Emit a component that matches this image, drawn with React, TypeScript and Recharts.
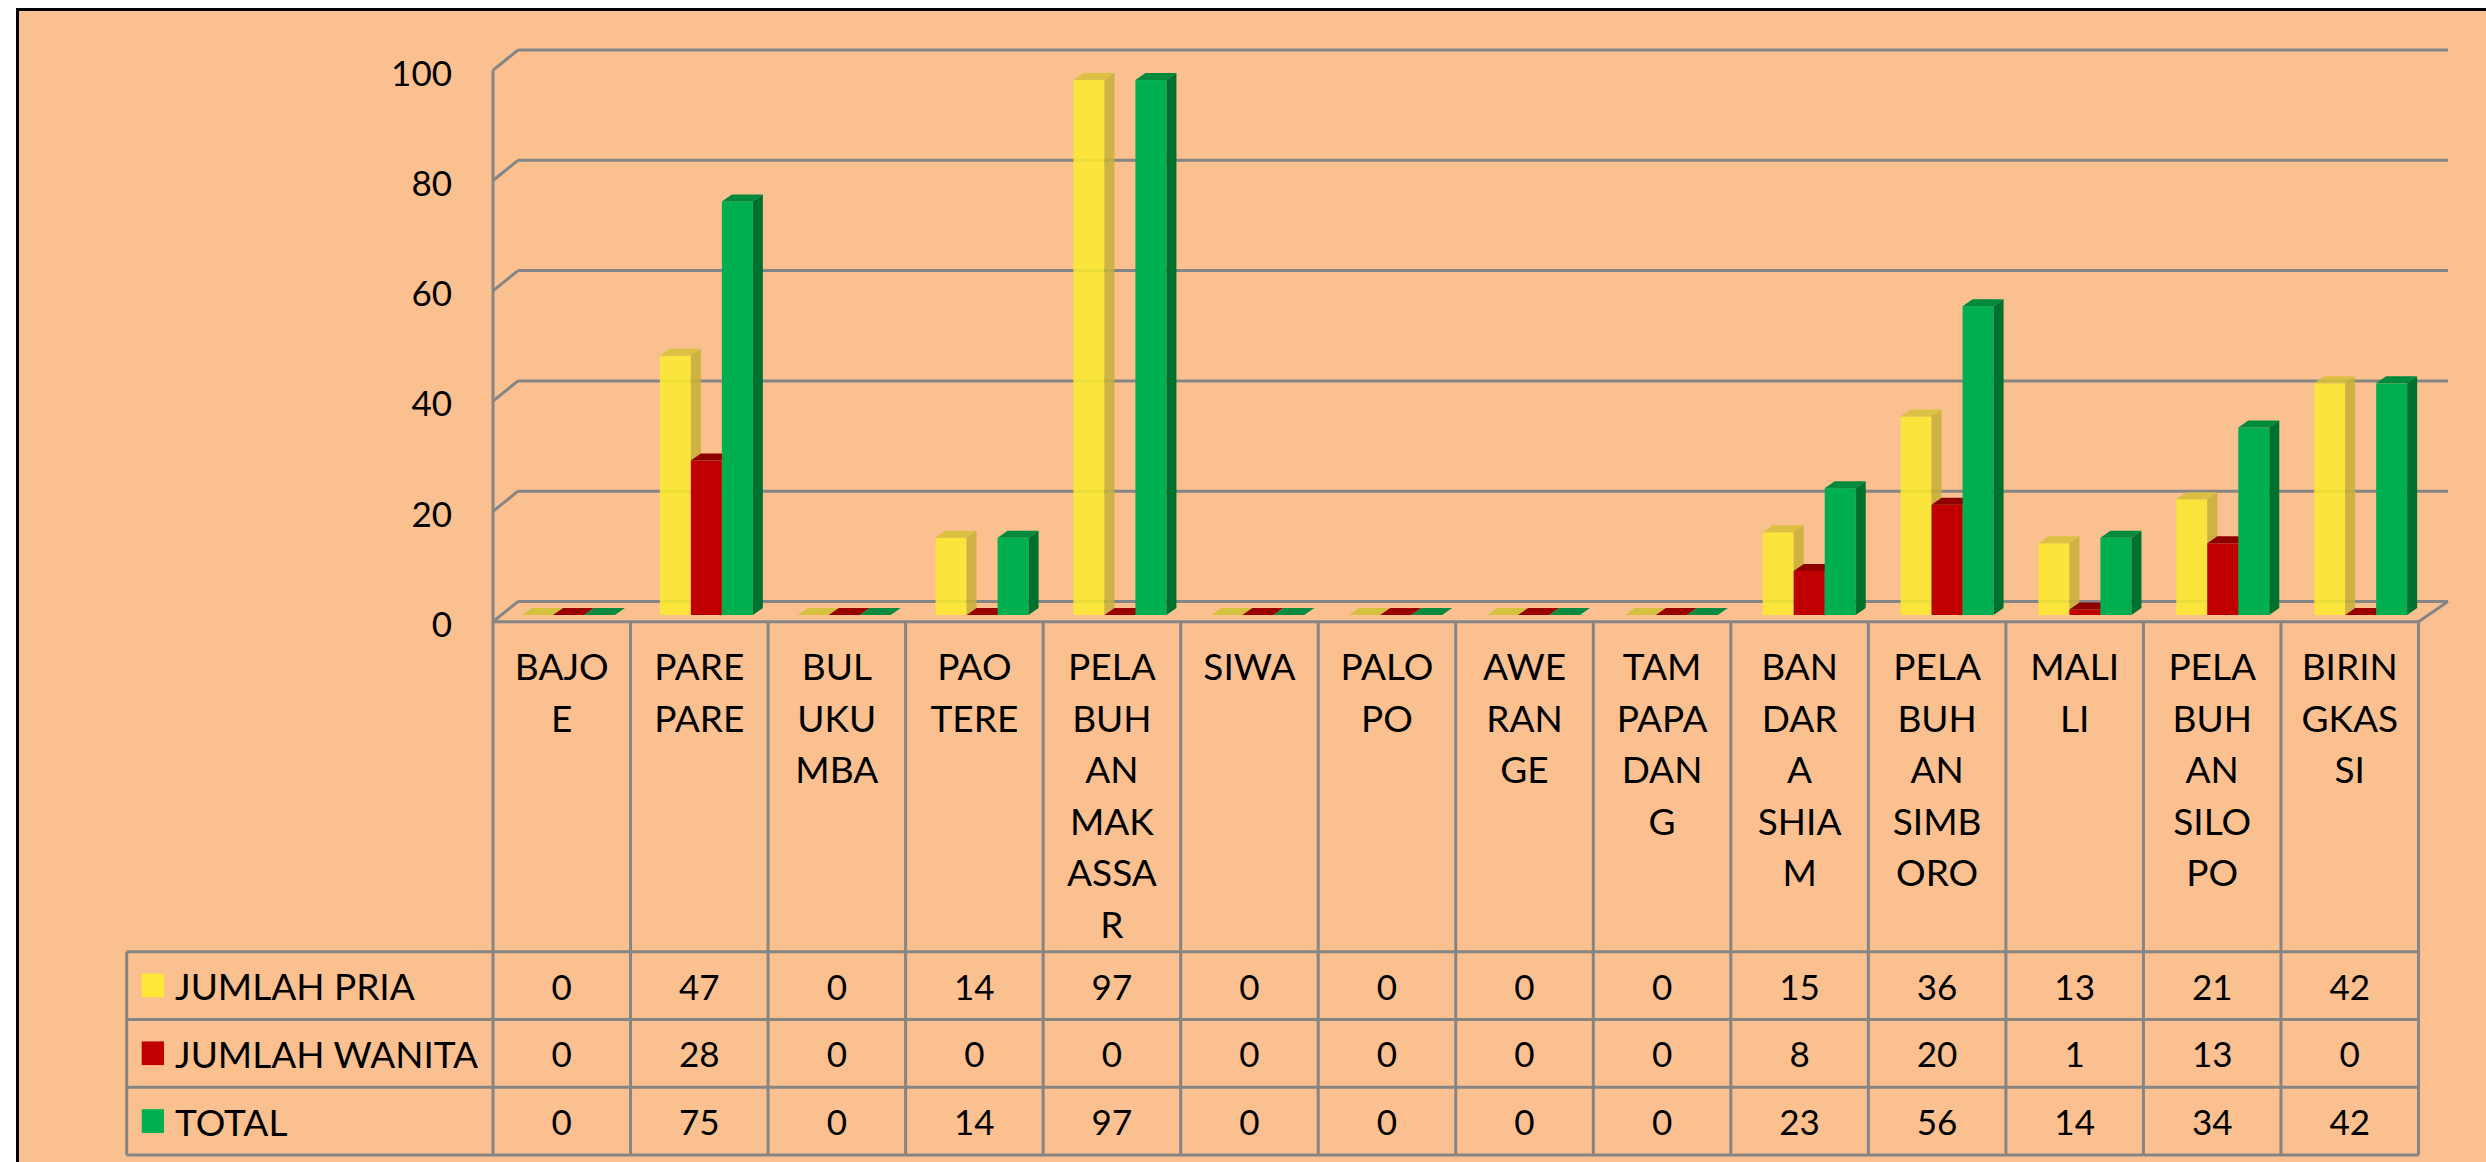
import { Bar, BarChart, CartesianGrid, XAxis, YAxis } from "recharts";

const categories = [
  "BAJOE",
  "PARE PARE",
  "BULUKUMBA",
  "PAOTERE",
  "PELABUHAN MAKASSAR",
  "SIWA",
  "PALOPO",
  "AWERANGE",
  "TAMPAPADANG",
  "BANDAR A SHIAM",
  "PELABUHAN SIMBORO",
  "MALILI",
  "PELABUHAN SILOPO",
  "BIRINGKASSI",
];
// wrapped the way the sheet wraps them in the narrow table cells
const tickLabels = [
  "BAJO\nE",
  "PARE\nPARE",
  "BUL\nUKU\nMBA",
  "PAO\nTERE",
  "PELA\nBUH\nAN\nMAK\nASSA\nR",
  "SIWA",
  "PALO\nPO",
  "AWE\nRAN\nGE",
  "TAM\nPAPA\nDAN\nG",
  "BAN\nDAR\nA\nSHIA\nM",
  "PELA\nBUH\nAN\nSIMB\nORO",
  "MALI\nLI",
  "PELA\nBUH\nAN\nSILO\nPO",
  "BIRIN\nGKAS\nSI",
];
const jumlahPria = [0, 47, 0, 14, 97, 0, 0, 0, 0, 15, 36, 13, 21, 42];
const jumlahWanita = [0, 28, 0, 0, 0, 0, 0, 0, 0, 8, 20, 1, 13, 0];
const total = [0, 75, 0, 14, 97, 0, 0, 0, 0, 23, 56, 14, 34, 42];
const seriesNames = ["JUMLAH PRIA", "JUMLAH WANITA", "TOTAL"];
const yTicks = [0, 20, 40, 60, 80, 100];

const rows = categories.map((name, i) => ({
  name,
  pria: jumlahPria[i],
  wanita: jumlahWanita[i],
  total: total[i],
}));

// layout (page pixels)
const W = 2486;
const H = 1162;
const BG = "#FAC090";
const GRID = "#858585";
const FONT = "Lato, 'Open Sans', sans-serif";
const FS = 35; // numbers
const FS_TXT = 37; // words

const PLOT_LEFT = 500;
const PLOT_RIGHT = 2430;
const PLOT_TOP = 63.5;
const PLOT_BOTTOM = 615;
const FRONT_LEFT = 493;
const FRONT_RIGHT = 2418.5;
const FRONT_DY = 6.7;
const BACK_DX = 18;
const BACK_DY = -13.5;
const ROW_TOP = 951.7;
const ROW_H = 67.8;
const TABLE_BOTTOM = ROW_TOP + ROW_H * 3;
const LEGEND_LEFT = 126.7;
const LABEL_FIRST = 665.5;
const LABEL_STEP = 51.5;
const DX = 10; // bar depth
const DY = 7;

const colors = [
  { front: "#FCEA30", top: "#D8C03A", side: "#C9B13A", flat: "#D6C13E", legend: "#FFE936", opacity: 0.88 },
  { front: "#C00000", top: "#8E0000", side: "#7A0000", flat: "#990000", legend: "#C00000", opacity: 1 },
  { front: "#00B050", top: "#008A3C", side: "#00702F", flat: "#0A8A3E", legend: "#00B050", opacity: 1 },
];

const toFront = (x: number) =>
  FRONT_LEFT + ((x - PLOT_LEFT) * (FRONT_RIGHT - FRONT_LEFT)) / (PLOT_RIGHT - PLOT_LEFT);

function WallLine(props: any) {
  const { x1, x2, y1 } = props;
  const fy = y1 + FRONT_DY;
  const by = y1 + BACK_DY;
  const fl = toFront(x1);
  const fr = toFront(x2);
  const bl = x1 + BACK_DX;
  const br = x2 + BACK_DX;
  const isFloor = Math.abs(y1 - PLOT_BOTTOM) < 1;
  const isTop = Math.abs(y1 - PLOT_TOP) < 1;
  return (
    <g key={props.key} stroke={GRID} strokeWidth={3} fill="none">
      <line x1={bl} y1={by} x2={br} y2={by} />
      <line x1={fl} y1={fy} x2={bl} y2={by} />
      {isFloor && (
        <>
          <line x1={fl} y1={fy} x2={fr} y2={fy} />
          <line x1={fr} y1={fy} x2={br} y2={by} />
        </>
      )}
      {isTop && <line x1={fl} y1={fy} x2={fl} y2={TABLE_BOTTOM} />}
    </g>
  );
}

const bar3d = (c: (typeof colors)[number]) => (props: any) => {
  const { x, y, width: w, height } = props;
  if (x == null || y == null) return <g />;
  const h = Math.max(height || 0, 0);
  if (h < 0.5) {
    const yb = y + (height || 0);
    return (
      <polygon
        points={`${x},${yb} ${x + w},${yb} ${x + w + DX},${yb - DY} ${x + DX},${yb - DY}`}
        fill={c.flat}
      />
    );
  }
  return (
    <g opacity={c.opacity}>
      <rect x={x} y={y} width={w} height={h} fill={c.front} />
      <polygon
        points={`${x},${y} ${x + w},${y} ${x + w + DX},${y - DY} ${x + DX},${y - DY}`}
        fill={c.top}
      />
      <polygon
        points={`${x + w},${y} ${x + w + DX},${y - DY} ${x + w + DX},${y + h - DY} ${x + w},${y + h}`}
        fill={c.side}
      />
    </g>
  );
};

function YTick(props: any) {
  const { y, payload } = props;
  return (
    <text
      x={452}
      y={y + 8}
      textAnchor="end"
      dominantBaseline="central"
      fontSize={FS}
      fontFamily={FONT}
      fill="#000"
    >
      {payload.value}
    </text>
  );
}

function TableColumn(props: any) {
  const { x, index } = props;
  const band = (PLOT_RIGHT - PLOT_LEFT) / categories.length;
  const left = toFront(x - band / 2);
  const right = toFront(x + band / 2);
  const cx = (left + right) / 2;
  const lines = tickLabels[index].split("\n");
  const values = [jumlahPria[index], jumlahWanita[index], total[index]];
  const rowLines = [0, 1, 2, 3].map((k) => ROW_TOP + k * ROW_H);
  return (
    <g fontFamily={FONT} fontSize={FS}>
      <g stroke={GRID} strokeWidth={3}>
        <line x1={right} y1={PLOT_BOTTOM + FRONT_DY} x2={right} y2={TABLE_BOTTOM} />
        {rowLines.map((ry) => (
          <line key={ry} x1={index === 0 ? LEGEND_LEFT : left} y1={ry} x2={right} y2={ry} />
        ))}
        {index === 0 && <line x1={LEGEND_LEFT} y1={ROW_TOP} x2={LEGEND_LEFT} y2={TABLE_BOTTOM} />}
      </g>
      {lines.map((ln, k) => (
        <text
          key={k}
          x={cx}
          y={LABEL_FIRST + k * LABEL_STEP}
          textAnchor="middle"
          dominantBaseline="central"
          fontSize={FS_TXT}
          fill="#000"
        >
          {ln}
        </text>
      ))}
      {values.map((v, k) => (
        <text
          key={`v${k}`}
          x={cx}
          y={ROW_TOP + (k + 0.5) * ROW_H}
          textAnchor="middle"
          dominantBaseline="central"
          fill="#000"
        >
          {v}
        </text>
      ))}
      {index === 0 &&
        seriesNames.map((s, k) => {
          const cy = ROW_TOP + (k + 0.5) * ROW_H;
          return (
            <g key={s}>
              <rect x={141.7} y={cy - 12} width={22.3} height={23.7} fill={colors[k].legend} />
              <text x={175} y={cy} dominantBaseline="central" fontSize={FS_TXT} fill="#000">
                {s}
              </text>
            </g>
          );
        })}
    </g>
  );
}

export default function App() {
  return (
    <div
      style={{
        position: "absolute",
        left: 0,
        top: 0,
        width: W,
        height: H,
        background: "#fff",
        overflow: "hidden",
        fontFamily: FONT,
      }}
    >
      <div
        style={{
          position: "absolute",
          left: 16,
          top: 8,
          width: W,
          height: 1160,
          background: BG,
          border: "3px solid #000",
          boxSizing: "border-box",
        }}
      />
      <div style={{ position: "absolute", left: 0, top: 0 }}>
        <BarChart
          width={W}
          height={H}
          data={rows}
          margin={{
            top: PLOT_TOP,
            right: W - PLOT_RIGHT,
            bottom: H - PLOT_BOTTOM - 1,
            left: PLOT_LEFT - 1,
          }}
          barSize={31}
          barGap={0}
        >
          <CartesianGrid vertical={false} horizontal={WallLine} />
          <XAxis
            dataKey="name"
            height={1}
            axisLine={false}
            tickLine={false}
            interval={0}
            tick={TableColumn}
          />
          <YAxis
            type="number"
            domain={[0, 100]}
            ticks={yTicks}
            width={1}
            axisLine={false}
            tickLine={false}
            interval={0}
            tick={YTick}
          />
          <Bar dataKey="pria" name={seriesNames[0]} shape={bar3d(colors[0])} isAnimationActive={false} />
          <Bar dataKey="wanita" name={seriesNames[1]} shape={bar3d(colors[1])} isAnimationActive={false} />
          <Bar dataKey="total" name={seriesNames[2]} shape={bar3d(colors[2])} isAnimationActive={false} />
        </BarChart>
      </div>
    </div>
  );
}
